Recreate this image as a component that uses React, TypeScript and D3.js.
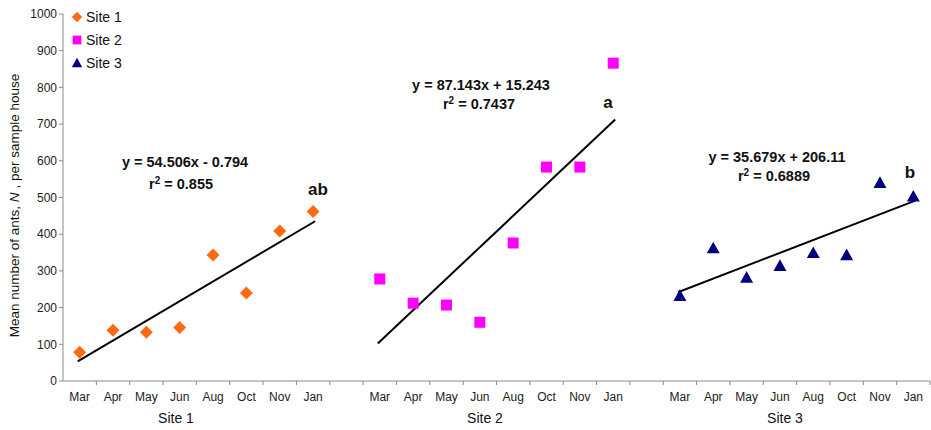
import React from "react";
import * as d3 from "d3";

const months = ["Mar", "Apr", "May", "Jun", "Aug", "Oct", "Nov", "Jan"];
const siteNames = ["Site 1", "Site 2", "Site 3"];
const site1 = [78, 138, 133, 146, 343, 240, 409, 462];
const site2 = [278, 212, 207, 160, 376, 583, 583, 866];
const site3 = [232, 362, 282, 314, 349, 343, 540, 503];
const slopes = [54.506, 87.143, 35.679];
const intercepts = [-0.794, 15.243, 206.11];
const equations = ["y = 54.506x - 0.794", "y = 87.143x + 15.243", "y = 35.679x + 206.11"];
const rSquared = ["0.855", "0.7437", "0.6889"];
const letters = ["ab", "a", "b"];
const yTicks = [0, 100, 200, 300, 400, 500, 600, 700, 800, 900, 1000];
const colors = ["#FF6A10", "#FF00FF", "#000080"];

const W = 931, H = 430;
const left = 63, right = 930, top = 14, bottom = 381;

export default function App() {
  const siteData = [site1, site2, site3];
  const cats: string[] = [];
  siteNames.forEach((s, si) => {
    months.forEach((m) => cats.push(`${si}-${m}`));
    if (si < 2) cats.push(`gap${si}`);
  });
  const x = d3.scaleBand<string>().domain(cats).range([left, right]).padding(0);
  const y = d3.scaleLinear().domain([0, 1000]).range([bottom, top]);
  const cx = (si: number, mi: number) => (x(`${si}-${months[mi]}`) as number) + x.bandwidth() / 2;
  const font = "'Liberation Sans', Arial, sans-serif";
  const axisColor = "#8a8a8a";

  const marker = (si: number, px: number, py: number, key: string, s = 1) => {
    const c = colors[si];
    if (si === 0) {
      const r = 6.5 * s;
      return <path key={key} d={`M${px},${py - r}L${px + r},${py}L${px},${py + r}L${px - r},${py}Z`} fill={c} />;
    }
    if (si === 1) {
      const r = 5.5 * s;
      return <rect key={key} x={px - r} y={py - r} width={2 * r} height={2 * r} fill={c} />;
    }
    const r = 6.5 * s;
    return <path key={key} d={`M${px},${py - r}L${px + r},${py + r * 0.8}L${px - r},${py + r * 0.8}Z`} fill={c} />;
  };

  const eqPos = [
    { x: 185, y: 167, rx: 181, ry: 189, lx: 318, ly: 195 },
    { x: 481, y: 90, rx: 479, ry: 109, lx: 608, ly: 108 },
    { x: 777, y: 162, rx: 774, ry: 181, lx: 910, ly: 178 },
  ];
  const labelX = [176, 485, 785];

  return (
    <svg width={W} height={H} style={{ position: "absolute", left: 0, top: 0, background: "#fff" }} fontFamily={font}>
      <line x1={left} x2={left} y1={top} y2={bottom} stroke={axisColor} />
      {yTicks.map((t) => (
        <g key={t}>
          <line x1={left - 4} x2={left} y1={y(t)} y2={y(t)} stroke={axisColor} />
          <text x={left - 6} y={y(t)} dy="0.35em" textAnchor="end" fontSize={12} fill="#222">{t}</text>
        </g>
      ))}
      <line x1={left} x2={right} y1={bottom} y2={bottom} stroke={axisColor} />
      {cats.map((c) => (
        <line key={c} x1={(x(c) as number) + x.bandwidth()} x2={(x(c) as number) + x.bandwidth()} y1={bottom} y2={bottom + 4} stroke={axisColor} />
      ))}
      {siteNames.map((s, si) => (
        <g key={s}>
          {months.map((m, mi) => (
            <text key={m} x={cx(si, mi)} y={401} textAnchor="middle" fontSize={12} fill="#222">{m}</text>
          ))}
          <text x={labelX[si]} y={423} textAnchor="middle" fontSize={14} fill="#111">{s}</text>
        </g>
      ))}
      <text transform={`translate(19,${(top + bottom) / 2 + 8}) rotate(-90)`} textAnchor="middle" fontSize={13.5} fill="#111">
        Mean number of ants, <tspan fontStyle="italic">N</tspan> , per sample house
      </text>
      {siteNames.map((s, si) => (
        <line key={`t${si}`} x1={cx(si, 0) - 2} x2={cx(si, 7) + 2} y1={y(slopes[si] * 1 + intercepts[si])} y2={y(slopes[si] * 8 + intercepts[si])} stroke="#000" strokeWidth={2} />
      ))}
      {siteData.map((d, si) => d.map((v, mi) => marker(si, cx(si, mi), y(v), `p${si}-${mi}`)))}
      {siteNames.map((s, si) => (
        <g key={`e${si}`} fontWeight="bold" fontSize={14.5} fill="#111">
          <text x={eqPos[si].x} y={eqPos[si].y} textAnchor="middle">{equations[si]}</text>
          <text x={eqPos[si].rx} y={eqPos[si].ry} textAnchor="middle">
            r<tspan dy={-5} fontSize={10}>2</tspan><tspan dy={5}> = {rSquared[si]}</tspan>
          </text>
          <text x={eqPos[si].lx} y={eqPos[si].ly} textAnchor="middle" fontSize={17}>{letters[si]}</text>
        </g>
      ))}
      {siteNames.map((s, si) => (
        <g key={`l${si}`}>
          {marker(si, 77, 17 + si * 23, `lm${si}`, 0.8)}
          <text x={86} y={17 + si * 23} dy="0.35em" fontSize={14} fill="#111">{s}</text>
        </g>
      ))}
    </svg>
  );
}
